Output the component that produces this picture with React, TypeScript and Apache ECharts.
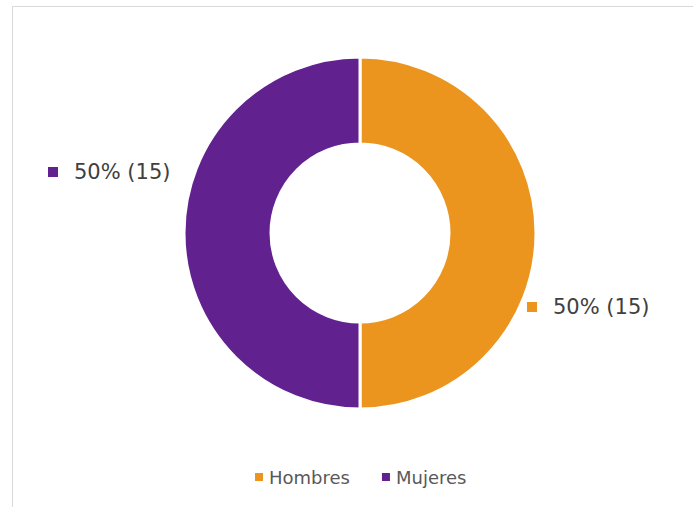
import React, { useEffect, useRef } from "react";
import * as echarts from "echarts";

const categories = ["Hombres", "Mujeres"];
const counts = [15, 15];
const colors = ["#EB951F", "#61218F"];

export default function App() {
  const ref = useRef<HTMLDivElement>(null);
  useEffect(() => {
    if (!ref.current) return;
    const chart = echarts.init(ref.current, null, { renderer: "svg" });
    const total = counts.reduce((a, b) => a + b, 0);
    const labelPos = [
      { x: 527, y: 307 },
      { x: 48, y: 172 },
    ];
    chart.setOption({
      animation: false,
      backgroundColor: "#ffffff",
      graphic: [
        {
          type: "rect",
          shape: { x: 12.5, y: 6.5, width: 720, height: 540 },
          style: { fill: "none", stroke: "#d9d9d9", lineWidth: 1 },
          silent: true,
        },
      ],
      legend: {
        data: categories,
        top: 468,
        left: 253,
        padding: 0,
        icon: "rect",
        itemWidth: 10,
        itemHeight: 10,
        itemGap: 30,
        textStyle: { fontFamily: "DejaVu Sans", fontSize: 18, color: "#595959" },
      },
      series: [
        {
          type: "pie",
          center: [360, 233],
          radius: [89, 176],
          startAngle: 90,
          clockwise: true,
          itemStyle: { borderColor: "#ffffff", borderWidth: 3 },
          label: {
            show: true,
            position: "outside",
            overflow: "none",
            formatter: (p: any) =>
              `{m|}{t|${Math.round((p.value / total) * 100)}% (${p.value})}`,
            rich: {
              m: { width: 10, height: 10 },
              t: {
                fontFamily: "DejaVu Sans",
                fontSize: 21,
                color: "#404040",
                padding: [0, 0, 0, 16],
              },
            },
          },
          labelLine: { show: false },
          labelLayout: (params: any) => ({
            x: labelPos[params.dataIndex].x,
            y: labelPos[params.dataIndex].y,
            align: "left",
            verticalAlign: "middle",
          }),
          data: categories.map((c, i) => ({
            name: c,
            value: counts[i],
            itemStyle: { color: colors[i] },
            label: {
              rich: {
                m: { width: 10, height: 10, backgroundColor: colors[i] },
              },
            },
          })),
        },
      ],
    });
    return () => chart.dispose();
  }, []);
  return (
    <div
      ref={ref}
      style={{ position: "fixed", left: 0, top: 0, width: 693, height: 507 }}
    />
  );
}
